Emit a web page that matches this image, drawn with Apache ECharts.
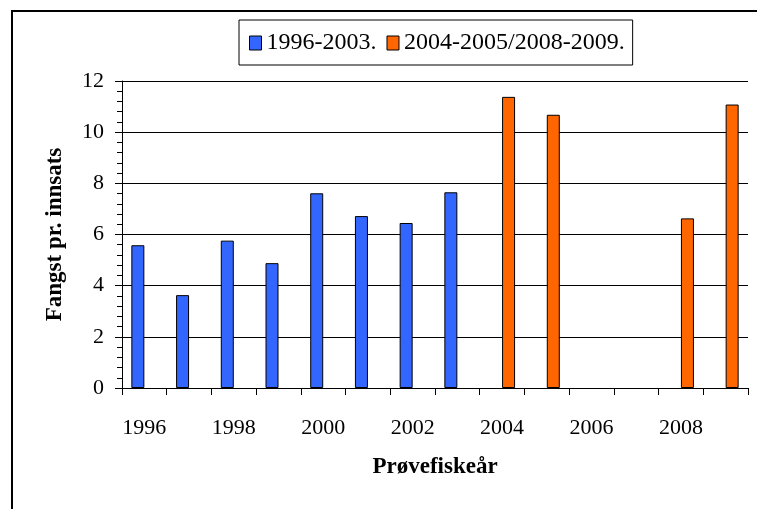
<!DOCTYPE html>
<html>
<head>
<meta charset="utf-8">
<script src="https://cdn.jsdelivr.net/npm/echarts@6/dist/echarts.min.js"></script>
<style>
  html, body { margin: 0; padding: 0; background: #fff; }
  #chart { width: 757px; height: 509px; }
</style>
</head>
<body>
<div id="chart"></div>
<script>
var years = ['1996', '1997', '1998', '1999', '2000', '2001', '2002', '2003',
             '2004', '2005', '2006', '2007', '2008', '2009'];
var serieNavn = ['1996-2003.', '2004-2005/2008-2009.'];
var periode1 = [5.58, 3.63, 5.76, 4.88, 7.61, 6.72, 6.45, 7.65, null, null, null, null, null, null];
var periode2 = [null, null, null, null, null, null, null, null, 11.38, 10.68, null, null, 6.63, 11.08];

var font = '"Liberation Serif", "Times New Roman", serif';

var myChart = echarts.init(document.getElementById('chart'));
var option = {
  backgroundColor: '#fff',
  animation: false,
  textStyle: { fontFamily: font, color: '#000' },
  graphic: [{
    type: 'rect',
    shape: { x: 12, y: 11, width: 800, height: 600 },
    style: { fill: 'none', stroke: '#000', lineWidth: 2 }
  }],
  legend: {
    left: 239,
    top: 20,
    padding: [11, 8, 10, 10],
    itemGap: 10,
    itemWidth: 12,
    itemHeight: 14,
    icon: 'rect',
    borderColor: '#000',
    borderWidth: 1,
    itemStyle: { borderColor: '#000', borderWidth: 1 },
    textStyle: { fontFamily: font, fontSize: 24, color: '#000' },
    data: serieNavn
  },
  grid: { left: 122, right: 9, top: 81, bottom: 121 },
  xAxis: {
    type: 'category',
    data: years,
    name: 'Prøvefiskeår',
    nameLocation: 'middle',
    nameGap: 68,
    nameTextStyle: { fontFamily: font, fontSize: 23, fontWeight: 'bold', color: '#000' },
    axisLine: { lineStyle: { color: '#000', width: 1 } },
    axisTick: { show: true, interval: 0, length: 7, lineStyle: { color: '#000' } },
    axisLabel: { interval: 1, margin: 29, fontSize: 22, color: '#000', fontFamily: font }
  },
  yAxis: {
    type: 'value',
    min: 0,
    max: 12,
    interval: 2,
    name: 'Fangst pr. innsats',
    nameLocation: 'middle',
    nameGap: 55,
    nameTextStyle: { fontFamily: font, fontSize: 23, fontWeight: 'bold', color: '#000' },
    axisLine: { show: true, lineStyle: { color: '#000', width: 1 } },
    axisTick: { show: true, length: 7, lineStyle: { color: '#000' } },
    minorTick: { show: true, splitNumber: 5, length: 5, lineStyle: { color: '#000' } },
    axisLabel: { margin: 18, fontSize: 22, color: '#000', fontFamily: font },
    splitLine: { show: true, lineStyle: { color: '#000', width: 1 } }
  },
  series: [
    {
      name: serieNavn[0],
      type: 'bar',
      data: periode1,
      barWidth: 13,
      barGap: '0%',
      itemStyle: { color: '#3366FF', borderColor: '#000', borderWidth: 1 }
    },
    {
      name: serieNavn[1],
      type: 'bar',
      data: periode2,
      barWidth: 13,
      barGap: '0%',
      itemStyle: { color: '#FF6600', borderColor: '#000', borderWidth: 1 }
    }
  ]
};
myChart.setOption(option);
</script>
</body>
</html>
